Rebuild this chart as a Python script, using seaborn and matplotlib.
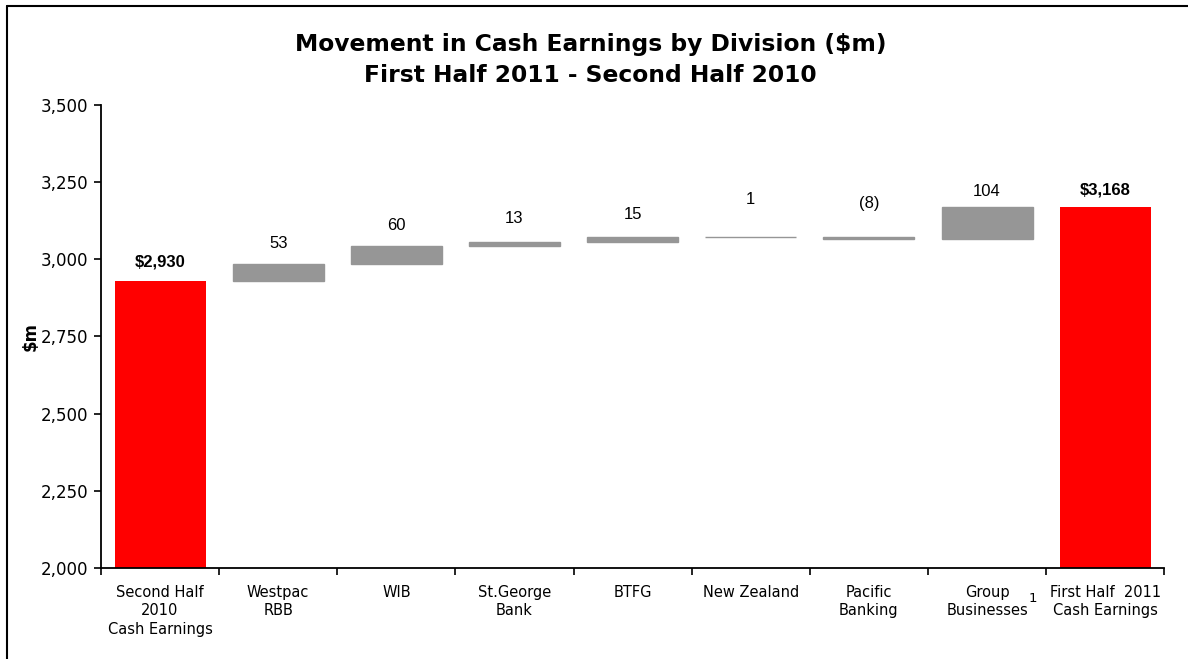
import matplotlib
matplotlib.use("Agg")
import matplotlib.pyplot as plt
import seaborn as sns
import pandas as pd
import numpy as np
from matplotlib.lines import Line2D
from matplotlib.ticker import FuncFormatter, FixedLocator

# ---- data ----
categories = ["Second Half\n2010\nCash Earnings", "Westpac\nRBB", "WIB", "St.George\nBank",
              "BTFG", "New Zealand", "Pacific\nBanking", "Group\nBusinesses", "First Half  2011\nCash Earnings"]
start_value = 2930
movements = [53, 60, 13, 15, 1, -8, 104]
end_value = 3168
value_labels = ["$2,930", "53", "60", "13", "15", "1", "(8)", "104", "$3,168"]
y_ticks = [2000, 2250, 2500, 2750, 3000, 3250, 3500]

# ---- waterfall geometry from data ----
cum = [start_value]
for m in movements:
    cum.append(cum[-1] + m)
tops, bottoms = [start_value], [y_ticks[0]]
for i, m in enumerate(movements):
    tops.append(max(cum[i], cum[i + 1]))
    bottoms.append(min(cum[i], cum[i + 1]))
tops.append(end_value)
bottoms.append(y_ticks[0])

RED = "#FF0000"
GREY = "#969696"
colors = [RED] + [GREY] * len(movements) + [RED]
label_offsets_px = [19, 21, 20, 23, 23, 37, 33, 16, 17]

df = pd.DataFrame({"cat": categories, "top": tops})

sns.set_style("white")
plt.rcParams["font.family"] = ["DejaVu Sans"]
plt.rcParams["text.color"] = "black"
plt.rcParams["axes.labelcolor"] = "black"
plt.rcParams["xtick.color"] = "black"
plt.rcParams["ytick.color"] = "black"

fig = plt.figure(figsize=(11.88, 6.59), dpi=100)
ax = fig.add_axes([0.085, 0.138, 0.895, 0.703])

sns.barplot(data=df, x="cat", y="top", hue="cat", palette=colors, legend=False,
            width=0.77, ax=ax, saturation=1)

for i, p in enumerate(ax.patches):
    p.set_y(bottoms[i])
    p.set_height(tops[i] - bottoms[i])
    if 0 < i < len(categories) - 1:
        p.set_edgecolor(GREY)
        p.set_linewidth(1.0)
    else:
        p.set_linewidth(0)

for i, p in enumerate(ax.patches):
    bold = i in (0, len(categories) - 1)
    ax.annotate(value_labels[i], (p.get_x() + p.get_width() / 2, tops[i]),
                xytext=(0, label_offsets_px[i]), textcoords="offset pixels",
                ha="center", va="center", fontsize=12,
                fontweight="bold" if bold else "normal",
                family="Liberation Sans", color="black")

ax.set_ylim(2000, 3500)
ax.set_xlim(-0.5, len(categories) - 0.5)
ax.set_yticks(y_ticks)
ax.yaxis.set_major_formatter(FuncFormatter(lambda v, _: f"{int(v):,}"))
ax.tick_params(axis="y", which="major", length=5, width=1.2, direction="out",
               left=True, labelsize=12, pad=4)
ax.tick_params(axis="x", which="major", length=0, labelsize=10.5, pad=12)
for lbl in ax.get_xticklabels():
    lbl.set_linespacing(1.3)
ax.xaxis.set_minor_locator(FixedLocator(np.arange(-0.5, len(categories), 1.0)))
ax.tick_params(axis="x", which="minor", length=5, width=1.2, direction="out",
               bottom=True)
ax.set_xlabel("")
ax.set_ylabel("$m", fontsize=12, fontweight="bold", labelpad=0)
ax.yaxis.set_label_coords(-0.058, 0.5)

for s in ["top", "right"]:
    ax.spines[s].set_visible(False)
for s in ["left", "bottom"]:
    ax.spines[s].set_color("black")
    ax.spines[s].set_linewidth(1.3)

fig.suptitle("Movement in Cash Earnings by Division ($m)\nFirst Half 2011 - Second Half 2010",
             x=0.497, y=0.95, fontsize=16.8, fontweight="bold", linespacing=1.45,
             color="black")

# footnote marker
ax.text(7.39, -0.065, "1", transform=ax.get_xaxis_transform(), fontsize=9.5,
        ha="center", va="center")

# frame lines around the chart area
fig.add_artist(Line2D([0.0062, 0.0062], [0.0, 0.991], color="black", lw=1.5,
                      transform=fig.transFigure))
fig.add_artist(Line2D([0.0062, 1.0], [0.991, 0.991], color="black", lw=1.5,
                      transform=fig.transFigure))

fig.savefig("out.png", dpi=100)
